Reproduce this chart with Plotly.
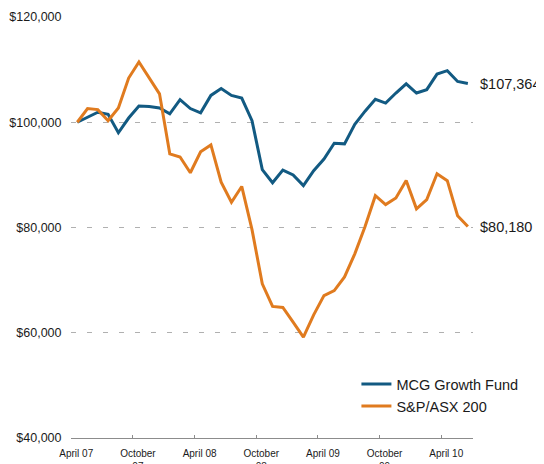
import plotly.graph_objects as go

months = ["Apr 07", "May 07", "Jun 07", "Jul 07", "Aug 07", "Sep 07", "Oct 07", "Nov 07", "Dec 07",
          "Jan 08", "Feb 08", "Mar 08", "Apr 08", "May 08", "Jun 08", "Jul 08", "Aug 08", "Sep 08",
          "Oct 08", "Nov 08", "Dec 08", "Jan 09", "Feb 09", "Mar 09", "Apr 09", "May 09", "Jun 09",
          "Jul 09", "Aug 09", "Sep 09", "Oct 09", "Nov 09", "Dec 09", "Jan 10", "Feb 10", "Mar 10",
          "Apr 10", "May 10", "Jun 10"]

mcg_growth_fund = [100000, 100900, 101900, 101500, 98000, 100800, 103100, 103000, 102700,
                   101600, 104300, 102600, 101800, 105100, 106400, 105100, 104600, 100300,
                   91000, 88500, 90900, 90000, 87950, 90800, 93000, 96000, 95900,
                   99600, 102100, 104350, 103650, 105550, 107300, 105550, 106200, 109150,
                   109800, 107750, 107364]

sp_asx_200 = [100000, 102600, 102400, 100300, 102700, 108400, 111450, 108300, 105400,
              94000, 93400, 90400, 94400, 95700, 88600, 84800, 87800, 79600,
              69300, 65000, 64800, 62000, 59150, 63400, 67050, 68000, 70600,
              75000, 80200, 86050, 84350, 85600, 88950, 83550, 85300, 90200,
              88900, 82250, 80180]

x_tick_labels = ["April 07", "October<br>07", "April 08", "October<br>08", "April 09",
                 "October<br>09", "April 10"]
y_tick_values = [40000, 60000, 80000, 100000, 120000]

BLUE = "#125a82"
ORANGE = "#e07b1f"
FONT = "Arial, Liberation Sans, sans-serif"

x = list(range(len(months)))
label_pos = [6 * k - 0.1 for k in range(len(x_tick_labels))]
tick_pos = [6 * k - 0.6 for k in range(1, len(x_tick_labels))]

fig = go.Figure()
fig.add_trace(go.Scatter(x=x, y=mcg_growth_fund, mode="lines", name="MCG Growth Fund",
                         line=dict(color=BLUE, width=3), text=months))
fig.add_trace(go.Scatter(x=x, y=sp_asx_200, mode="lines", name="S&P/ASX 200",
                         line=dict(color=ORANGE, width=3), text=months))

for series in (mcg_growth_fund, sp_asx_200):
    fig.add_annotation(x=x[-1], y=series[-1], xref="x", yref="y",
                       text=f"${series[-1]:,}", showarrow=False, xanchor="left",
                       xshift=10, font=dict(family=FONT, size=14.5, color="#1a1a1a"))

fig.update_layout(
    width=536, height=456,
    margin=dict(l=63, r=71, t=9, b=26, autoexpand=False),
    paper_bgcolor="white", plot_bgcolor="white",
    font=dict(family=FONT, color="#1a1a1a"),
    showlegend=True,
    legend=dict(x=0.71, y=0.166, xanchor="left", yanchor="top",
                font=dict(family=FONT, size=14.5, color="#1a1a1a"),
                bgcolor="rgba(0,0,0,0)", itemwidth=30, tracegroupgap=0),
    xaxis=dict(range=[-0.61, 38.5], tickmode="array", tickvals=label_pos,
               ticktext=x_tick_labels, ticks="", showgrid=False, zeroline=False,
               automargin=False, ticklabelstandoff=6,
               showline=True, linecolor="#8c8c8c", linewidth=1.2,
               tickfont=dict(family=FONT, size=10, color="#1a1a1a"),
               minor=dict(tickmode="array", tickvals=tick_pos, ticks="inside",
                          ticklen=3, tickcolor="#8c8c8c", showgrid=False)),
    yaxis=dict(range=[40000, 120000], tickmode="array", tickvals=y_tick_values,
               ticktext=[f"${v:,}" for v in y_tick_values], automargin=False,
               showgrid=True, gridcolor="#b0b0b0", gridwidth=1, griddash="5px,11px",
               zeroline=False, showline=False, ticks="outside", ticklen=6,
               tickcolor="rgba(0,0,0,0)",
               tickfont=dict(family=FONT, size=12.5, color="#1a1a1a")),
)

fig.write_html("out.html")
